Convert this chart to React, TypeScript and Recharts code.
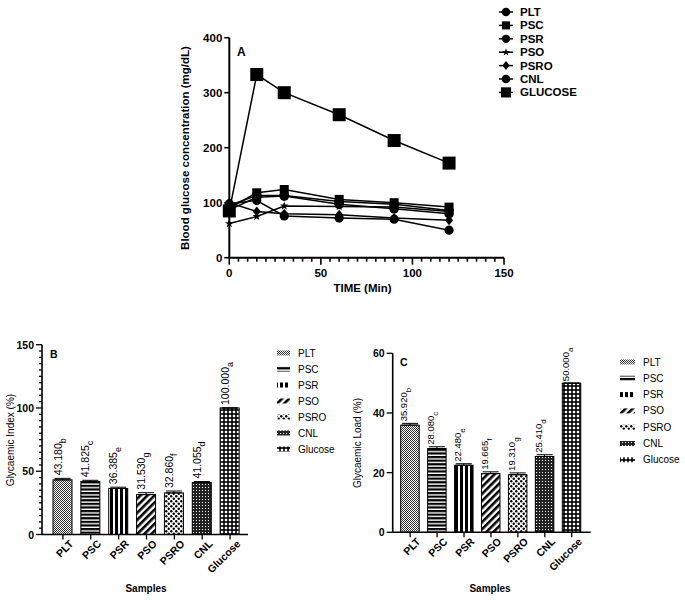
import React from 'react';
import {
  LineChart,
  Line,
  BarChart,
  Bar,
  XAxis,
  YAxis,
  ErrorBar,
} from 'recharts';

const FONT = '"Liberation Sans", Arial, Helvetica, sans-serif';

// ---- Panel A: blood glucose over time ----
const TIME_MIN = [0, 15, 30, 60, 90, 120];
const PLT_A = [95, 113, 113, 102, 97, 86];
const PSC_A = [90, 118, 124, 106, 100, 92];
const PSR_A = [98, 104, 76, 72, 70, 50];
const PSO_A = [62, 75, 94, 93, 92, 84];
const PSRO_A = [100, 84, 80, 78, 72, 68];
const CNL_A = [87, 110, 112, 97, 89, 80];
const GLUCOSE_A = [85, 333, 300, 260, 213, 172];
const TIME_TICKS = Array.from({ length: 31 }, (_, i) => i * 5);
const GLU_TICKS = [0, 100, 200, 300, 400];

// ---- Panels B and C ----
const SAMPLES = ['PLT', 'PSC', 'PSR', 'PSO', 'PSRO', 'CNL', 'Glucose'];
const PATTERN_KEYS = ['plt', 'psc', 'psr', 'pso', 'psro', 'cnl', 'glu'];
const GI = [43.18, 41.825, 36.385, 31.53, 32.86, 41.055, 100.0];
const GI_ERR = [1.2, 1.0, 1.0, 1.5, 1.5, 0.8, 0];
const GI_LETTERS = ['b', 'c', 'e', 'g', 'f', 'd', 'a'];
const GI_TICKS = Array.from({ length: 31 }, (_, i) => i * 5);
const GL = [35.92, 28.08, 22.48, 19.665, 19.31, 25.41, 50.0];
const GL_ERR = [0.6, 0.6, 0.5, 0.6, 0.6, 0.6, 0];
const GL_LETTERS = ['b', 'c', 'e', 'f', 'g', 'd', 'a'];
const GL_TICKS = [0, 20, 40, 60];

const lineRows = TIME_MIN.map((t, i) => ({
  time: t,
  PLT: PLT_A[i],
  PSC: PSC_A[i],
  PSR: PSR_A[i],
  PSO: PSO_A[i],
  PSRO: PSRO_A[i],
  CNL: CNL_A[i],
  GLUCOSE: GLUCOSE_A[i],
}));

const giRows = SAMPLES.map((s, i) => ({ name: s, value: GI[i], err: [0, GI_ERR[i]] }));
const glRows = SAMPLES.map((s, i) => ({ name: s, value: GL[i], err: [0, GL_ERR[i]] }));

const LINE_SERIES = [
  { key: 'PLT', marker: 'circle' },
  { key: 'PSC', marker: 'square' },
  { key: 'PSR', marker: 'hex' },
  { key: 'PSO', marker: 'star' },
  { key: 'PSRO', marker: 'diamond' },
  { key: 'CNL', marker: 'circle' },
  { key: 'GLUCOSE', marker: 'bigsquare' },
];

function starPath(cx: number, cy: number, R: number, r: number) {
  let d = '';
  for (let k = 0; k < 10; k++) {
    const rad = k % 2 === 0 ? R : r;
    const a = -Math.PI / 2 + (k * Math.PI) / 5;
    d += (k === 0 ? 'M' : 'L') + (cx + rad * Math.cos(a)).toFixed(2) + ',' + (cy + rad * Math.sin(a)).toFixed(2);
  }
  return d + 'Z';
}

function Marker({ kind, cx, cy, scale = 1 }: { kind: string; cx: number; cy: number; scale?: number }) {
  if (cx == null || cy == null) return null;
  const s = scale;
  switch (kind) {
    case 'square':
      return <rect x={cx - 4.5 * s} y={cy - 4.5 * s} width={9 * s} height={9 * s} fill="#000" />;
    case 'bigsquare':
      return <rect x={cx - 6.5 * s} y={cy - 6.5 * s} width={13 * s} height={13 * s} fill="#000" />;
    case 'star':
      return <path d={starPath(cx, cy, 4.5 * s, 1.8 * s)} fill="#000" />;
    case 'diamond':
      return <path d={`M${cx},${cy - 5 * s}L${cx + 4 * s},${cy}L${cx},${cy + 5 * s}L${cx - 4 * s},${cy}Z`} fill="#000" />;
    case 'hex':
      return <circle cx={cx} cy={cy} r={4.6 * s} fill="#000" />;
    default:
      return <circle cx={cx} cy={cy} r={4.8 * s} fill="#000" />;
  }
}

function Patterns() {
  return (
    <svg width={0} height={0} style={{ position: 'absolute', left: 0, top: 0 }}>
      <defs>
        <pattern id="pat-plt" width="2" height="2" patternUnits="userSpaceOnUse">
          <rect width="2" height="2" fill="#fff" />
          <rect width="1" height="1" fill="#333" />
          <rect x="1" y="1" width="1" height="1" fill="#333" />
        </pattern>
        <pattern id="pat-psc" width="4" height="3.6" patternUnits="userSpaceOnUse">
          <rect width="4" height="3.6" fill="#fff" />
          <rect width="4" height="2.2" fill="#000" />
        </pattern>
        <pattern id="pat-psr" width="5" height="4" patternUnits="userSpaceOnUse">
          <rect width="5" height="4" fill="#fff" />
          <rect width="3" height="4" fill="#000" />
        </pattern>
        <pattern id="pat-pso" width="5" height="5" patternUnits="userSpaceOnUse" patternTransform="rotate(45)">
          <rect width="5" height="5" fill="#fff" />
          <rect width="2.6" height="5" fill="#000" />
        </pattern>
        <pattern id="pat-psro" width="5" height="5" patternUnits="userSpaceOnUse">
          <rect width="5" height="5" fill="#fff" />
          <circle cx="1.25" cy="1.25" r="1.2" fill="#000" />
          <circle cx="3.75" cy="3.75" r="1.2" fill="#000" />
        </pattern>
        <pattern id="pat-cnl" width="3" height="3" patternUnits="userSpaceOnUse">
          <rect width="3" height="3" fill="#222" />
          <rect x="1" y="1" width="1" height="1" fill="#fff" />
        </pattern>
        <pattern id="pat-glu" width="4" height="4" patternUnits="userSpaceOnUse">
          <rect width="4" height="4" fill="#000" />
          <rect x="0.8" y="0.8" width="2.4" height="2.4" fill="#fff" />
        </pattern>
      </defs>
    </svg>
  );
}

const TimeTick = (props: any) => {
  const { x, y, payload } = props;
  const major = payload.value % 50 === 0;
  return (
    <g>
      <line x1={x} x2={x} y1={y} y2={y + (major ? 7 : 4)} stroke="#000" strokeWidth={1.6} />
      {major && (
        <text x={x} y={y + 19} textAnchor="middle" fontSize={11.5} fontWeight="bold" fontFamily={FONT} fill="#000">
          {payload.value}
        </text>
      )}
    </g>
  );
};

const GluTick = (props: any) => {
  const { x, y, payload } = props;
  return (
    <g>
      <line x1={x - 5} x2={x} y1={y} y2={y} stroke="#000" strokeWidth={1.6} />
      <text x={x - 7} y={y + 4} textAnchor="end" fontSize={11.5} fontWeight="bold" fontFamily={FONT} fill="#000">
        {payload.value}
      </text>
    </g>
  );
};

const makeValueTick = (majorStep: number) => (props: any) => {
  const { x, y, payload } = props;
  const major = payload.value % majorStep === 0;
  return (
    <g>
      <line x1={x - (major ? 6 : 3)} x2={x} y1={y} y2={y} stroke="#000" strokeWidth={1.3} />
      {major && (
        <text x={x - 8} y={y + 4} textAnchor="end" fontSize={10.5} fontWeight="bold" fontFamily={FONT} fill="#000">
          {payload.value}
        </text>
      )}
    </g>
  );
};

const SampleTick = (props: any) => {
  const { x, y, payload } = props;
  return (
    <g transform={`translate(${x},${y})`}>
      <line x1={0} x2={0} y1={0} y2={5} stroke="#000" strokeWidth={1.3} />
      <g transform="translate(11,10) rotate(-45)">
        <text x={0} y={0} textAnchor="end" fontSize={10.5} fontWeight="bold" fontFamily={FONT} fill="#000">
          {payload.value}
        </text>
      </g>
    </g>
  );
};

// bar drawn with its pattern plus the rotated value label above it
const makeBarShape = (letters: string[], errs: number[], pxPerUnit: number, shift: number, fs: number, gap: number) => (props: any) => {
  const { x, y, width, height, index } = props;
  const v = Number(props.payload?.value);
  const errPx = errs[index] * pxPerUnit;
  const cx = x + width / 2 + shift;
  const ty = y - errPx - gap;
  return (
    <g>
      <rect
        x={x}
        y={y}
        width={width}
        height={height}
        fill={`url(#pat-${PATTERN_KEYS[index]})`}
        stroke="#000"
        strokeWidth={1}
      />
      <g transform={`translate(${cx.toFixed(2)},${ty.toFixed(2)})`}>
        <text x={0} y={0} transform="rotate(-90)" fontSize={fs} fontFamily={FONT} fill="#000">
          {v.toFixed(3)}
          <tspan dy={4} fontSize={fs - 1.5}>
            {letters[index]}
          </tspan>
        </text>
      </g>
    </g>
  );
};

function LinePanel() {
  return (
    <div style={{ position: 'absolute', left: 0, top: 0 }}>
      <LineChart width={685} height={320} data={lineRows} margin={{ top: 37.7, right: 181, bottom: 32.3, left: 169.3 }}>
        <XAxis
          type="number"
          dataKey="time"
          domain={[0, 150]}
          ticks={TIME_TICKS}
          interval={0}
          tick={TimeTick}
          tickLine={false}
          tickSize={0}
          tickMargin={0}
          height={30}
          axisLine={{ stroke: '#000', strokeWidth: 2 }}
        />
        <YAxis
          type="number"
          domain={[0, 400]}
          ticks={GLU_TICKS}
          interval={0}
          tick={GluTick}
          tickLine={false}
          tickSize={0}
          tickMargin={0}
          width={60}
          axisLine={{ stroke: '#000', strokeWidth: 2 }}
        />
        {LINE_SERIES.map((s) => (
          <Line
            key={s.key}
            type="linear"
            dataKey={s.key}
            stroke="#000"
            strokeWidth={1.5}
            isAnimationActive={false}
            activeDot={false}
            dot={(p: any) => <Marker key={`${s.key}-${p.index}`} kind={s.marker} cx={p.cx} cy={p.cy} />}
          />
        ))}
      </LineChart>
    </div>
  );
}

function BarPanel(props: {
  left: number;
  top: number;
  width: number;
  rows: any[];
  errs: number[];
  letters: string[];
  domain: [number, number];
  ticks: number[];
  majorStep: number;
  margin: any;
  padding: { left: number; right: number };
  barSize: number;
  pxPerUnit: number;
  labelShift: number;
  labelFont: number;
  labelGap: number;
}) {
  return (
    <div style={{ position: 'absolute', left: props.left, top: props.top }}>
      <BarChart width={props.width} height={270} data={props.rows} margin={props.margin}>
        <XAxis
          dataKey="name"
          interval={0}
          padding={props.padding}
          tick={SampleTick}
          tickLine={false}
          tickSize={0}
          tickMargin={0}
          height={40}
          axisLine={{ stroke: '#000', strokeWidth: 1.6 }}
        />
        <YAxis
          type="number"
          domain={props.domain}
          ticks={props.ticks}
          interval={0}
          tick={makeValueTick(props.majorStep)}
          tickLine={false}
          tickSize={0}
          tickMargin={0}
          width={42}
          axisLine={{ stroke: '#000', strokeWidth: 1.6 }}
        />
        <Bar
          dataKey="value"
          barSize={props.barSize}
          isAnimationActive={false}
          shape={makeBarShape(props.letters, props.errs, props.pxPerUnit, props.labelShift, props.labelFont, props.labelGap)}
        >
          <ErrorBar dataKey="err" width={8} stroke="#000" strokeWidth={1} direction="y" />
        </Bar>
      </BarChart>
    </div>
  );
}

function Overlay() {
  const legendA = LINE_SERIES.map((s, i) => ({ ...s, y: 12 + i * 13.4 }));
  const bold = { fontFamily: FONT, fontWeight: 'bold' as const, fill: '#000' };
  const plain = { fontFamily: FONT, fill: '#000' };
  return (
    <svg width={685} height={600} style={{ position: 'absolute', left: 0, top: 0, pointerEvents: 'none' }}>
      {/* panel A texts */}
      <text x={237} y={56} fontSize={12} {...bold}>A</text>
      <text x={362.5} y={292} textAnchor="middle" fontSize={11.5} {...bold}>TIME (Min)</text>
      <text transform="translate(189,148) rotate(-90)" textAnchor="middle" fontSize={11.5} {...bold}>
        Blood glucose concentration (mg/dL)
      </text>
      {legendA.map((s) => (
        <g key={s.key}>
          <line x1={499} x2={513} y1={s.y} y2={s.y} stroke="#000" strokeWidth={1.5} />
          <Marker kind={s.marker} cx={506} cy={s.y} scale={s.marker === 'bigsquare' ? 0.78 : 0.9} />
          <text x={520} y={s.y + 4} fontSize={11.5} {...bold}>{s.key}</text>
        </g>
      ))}

      {/* panel B texts */}
      <text x={50} y={358} fontSize={10.5} {...bold}>B</text>
      <text transform="translate(14,440) rotate(-90)" textAnchor="middle" fontSize={10} {...plain}>
        Glycaemic Index (%)
      </text>
      <text x={146} y={592} textAnchor="middle" fontSize={10} {...bold}>Samples</text>
      {SAMPLES.map((s, i) => (
        <g key={`lb-${s}`}>
          <rect x={277} y={353 + i * 16 - 2.5} width={13} height={5} fill={`url(#pat-${PATTERN_KEYS[i]})`} />
          <text x={298} y={353 + i * 16 + 3.5} fontSize={10} {...plain}>{s}</text>
        </g>
      ))}

      {/* panel C texts */}
      <text x={400} y={366} fontSize={10.5} {...bold}>C</text>
      <text transform="translate(361,443) rotate(-90)" textAnchor="middle" fontSize={10} {...plain}>
        Glycaemic Load (%)
      </text>
      <text x={490} y={592} textAnchor="middle" fontSize={10} {...bold}>Samples</text>
      {SAMPLES.map((s, i) => (
        <g key={`lc-${s}`}>
          <rect x={620} y={362 + i * 16.3 - 2.5} width={15} height={5} fill={`url(#pat-${PATTERN_KEYS[i]})`} />
          <text x={643} y={362 + i * 16.3 + 3.5} fontSize={10} {...plain}>{s}</text>
        </g>
      ))}
    </svg>
  );
}

export default function App() {
  return (
    <div style={{ position: 'absolute', left: 0, top: 0, width: 685, height: 600, background: '#fff', fontFamily: FONT }}>
      <Patterns />
      <LinePanel />
      <BarPanel
        left={0}
        top={330}
        width={270}
        rows={giRows}
        errs={GI_ERR}
        letters={GI_LETTERS}
        domain={[0, 150]}
        ticks={GI_TICKS}
        majorStep={50}
        margin={{ top: 14.7, right: 22, bottom: 25.5, left: 0 }}
        padding={{ left: 7, right: 4 }}
        barSize={19}
        pxPerUnit={189.8 / 150}
        labelShift={-1}
        labelFont={10.5}
        labelGap={3}
      />
      <BarPanel
        left={340}
        top={330}
        width={345}
        rows={glRows}
        errs={GL_ERR}
        letters={GL_LETTERS}
        domain={[0, 60]}
        ticks={GL_TICKS}
        majorStep={20}
        margin={{ top: 23.3, right: 94.3, bottom: 27.7, left: 10.7 }}
        padding={{ left: 4, right: 5.5 }}
        barSize={18.5}
        pxPerUnit={179 / 60}
        labelShift={-3}
        labelFont={9.5}
        labelGap={2}
      />
      <Overlay />
    </div>
  );
}
